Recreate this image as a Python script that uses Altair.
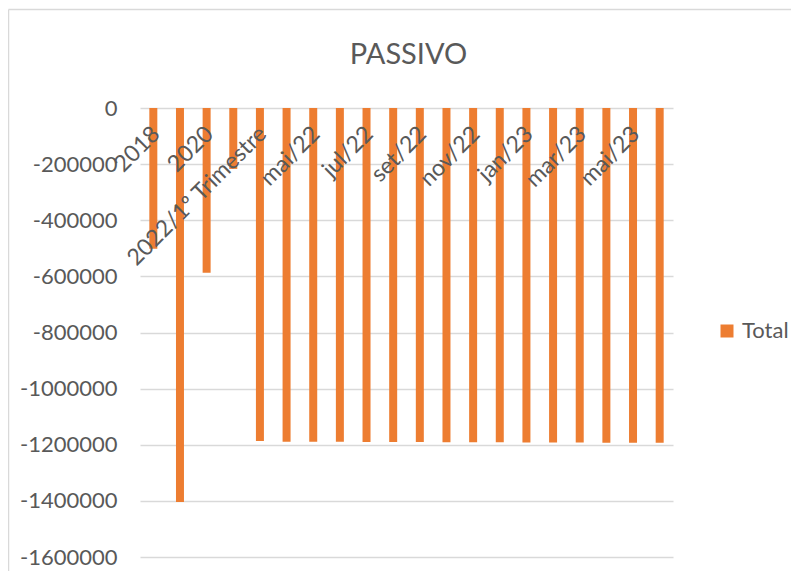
import altair as alt
import pandas as pd

title_text = "PASSIVO"
categories = ["2018", "2019", "2020", "2021", "2022/1º Trimestre", "abr/22", "mai/22",
              "jun/22", "jul/22", "ago/22", "set/22", "out/22", "nov/22", "dez/22",
              "jan/23", "fev/23", "mar/23", "abr/23", "mai/23", "jun/23"]
values = [-502000, -1404000, -587000, -217000, -1187000, -1189000, -1189000,
          -1189500, -1190000, -1190000, -1190500, -1191000, -1191500, -1191500,
          -1192000, -1192000, -1192000, -1192500, -1192500, -1192500]
series_name = "Total"
y_ticks = [0, -200000, -400000, -600000, -800000, -1000000, -1200000, -1400000, -1600000]
x_labels = categories[::2]

df = pd.DataFrame({"cat": categories, "val": values, "serie": [series_name] * len(categories)})

W, H = 533, 449
FONT = "Lato"
GRAY = "#595959"

bars = alt.Chart(df).mark_bar(color="#ED7D31").encode(
    x=alt.X("cat:N", sort=categories,
            scale=alt.Scale(paddingInner=0.7, paddingOuter=0.35),
            axis=alt.Axis(orient="bottom", offset=-H, values=x_labels, title=None,
                          labelAngle=-45, labelAlign="right", labelBaseline="middle",
                          labelPadding=22, labelOffset=3, ticks=False, domain=False,
                          grid=False, labelFontSize=23, labelFont=FONT, labelColor=GRAY,
                          labelOverlap=False, labelLimit=400, labelBound=False, zindex=1)),
    y=alt.Y("val:Q", scale=alt.Scale(domain=[-1600000, 0], nice=False),
            axis=alt.Axis(values=y_ticks, title=None, labelExpr="'' + datum.value",
                          ticks=False, domain=False, grid=True, gridColor="#d9d9d9",
                          gridWidth=1.3, labelFontSize=22, labelFont=FONT,
                          labelColor=GRAY, labelPadding=23)),
    color=alt.Color("serie:N", scale=alt.Scale(range=["#ED7D31"]),
                    legend=alt.Legend(title=None, orient="none", legendX=576, legendY=212,
                                      symbolType="square", symbolSize=169,
                                      symbolStrokeWidth=0, labelFontSize=22,
                                      labelFont=FONT, labelColor=GRAY, labelOffset=4,
                                      padding=0)),
)

deco = pd.DataFrame({"t": [title_text]})
border_left = alt.Chart(deco).mark_rule(color="#d9d9d9", strokeWidth=1.5).encode(
    x=alt.value(-131.5), y=alt.value(-98.5), y2=alt.value(H + 30))
border_top = alt.Chart(deco).mark_rule(color="#d9d9d9", strokeWidth=1.5).encode(
    x=alt.value(-131.5), x2=alt.value(W + 140), y=alt.value(-98.5))
title = alt.Chart(deco).mark_text(font=FONT, fontSize=29, color=GRAY,
                                  baseline="alphabetic", align="center").encode(
    x=alt.value(W / 2 + 2), y=alt.value(-44.5), text="t:N")

chart = alt.layer(border_left, border_top, title, bars).properties(
    width=W, height=H,
    background="white",
    autosize=alt.AutoSizeParams(type="none"),
    padding={"left": 132, "top": 100, "right": 118, "bottom": 14},
).configure_view(stroke=None)

chart.save("out.html", embed_options={"renderer": "svg", "actions": False})
